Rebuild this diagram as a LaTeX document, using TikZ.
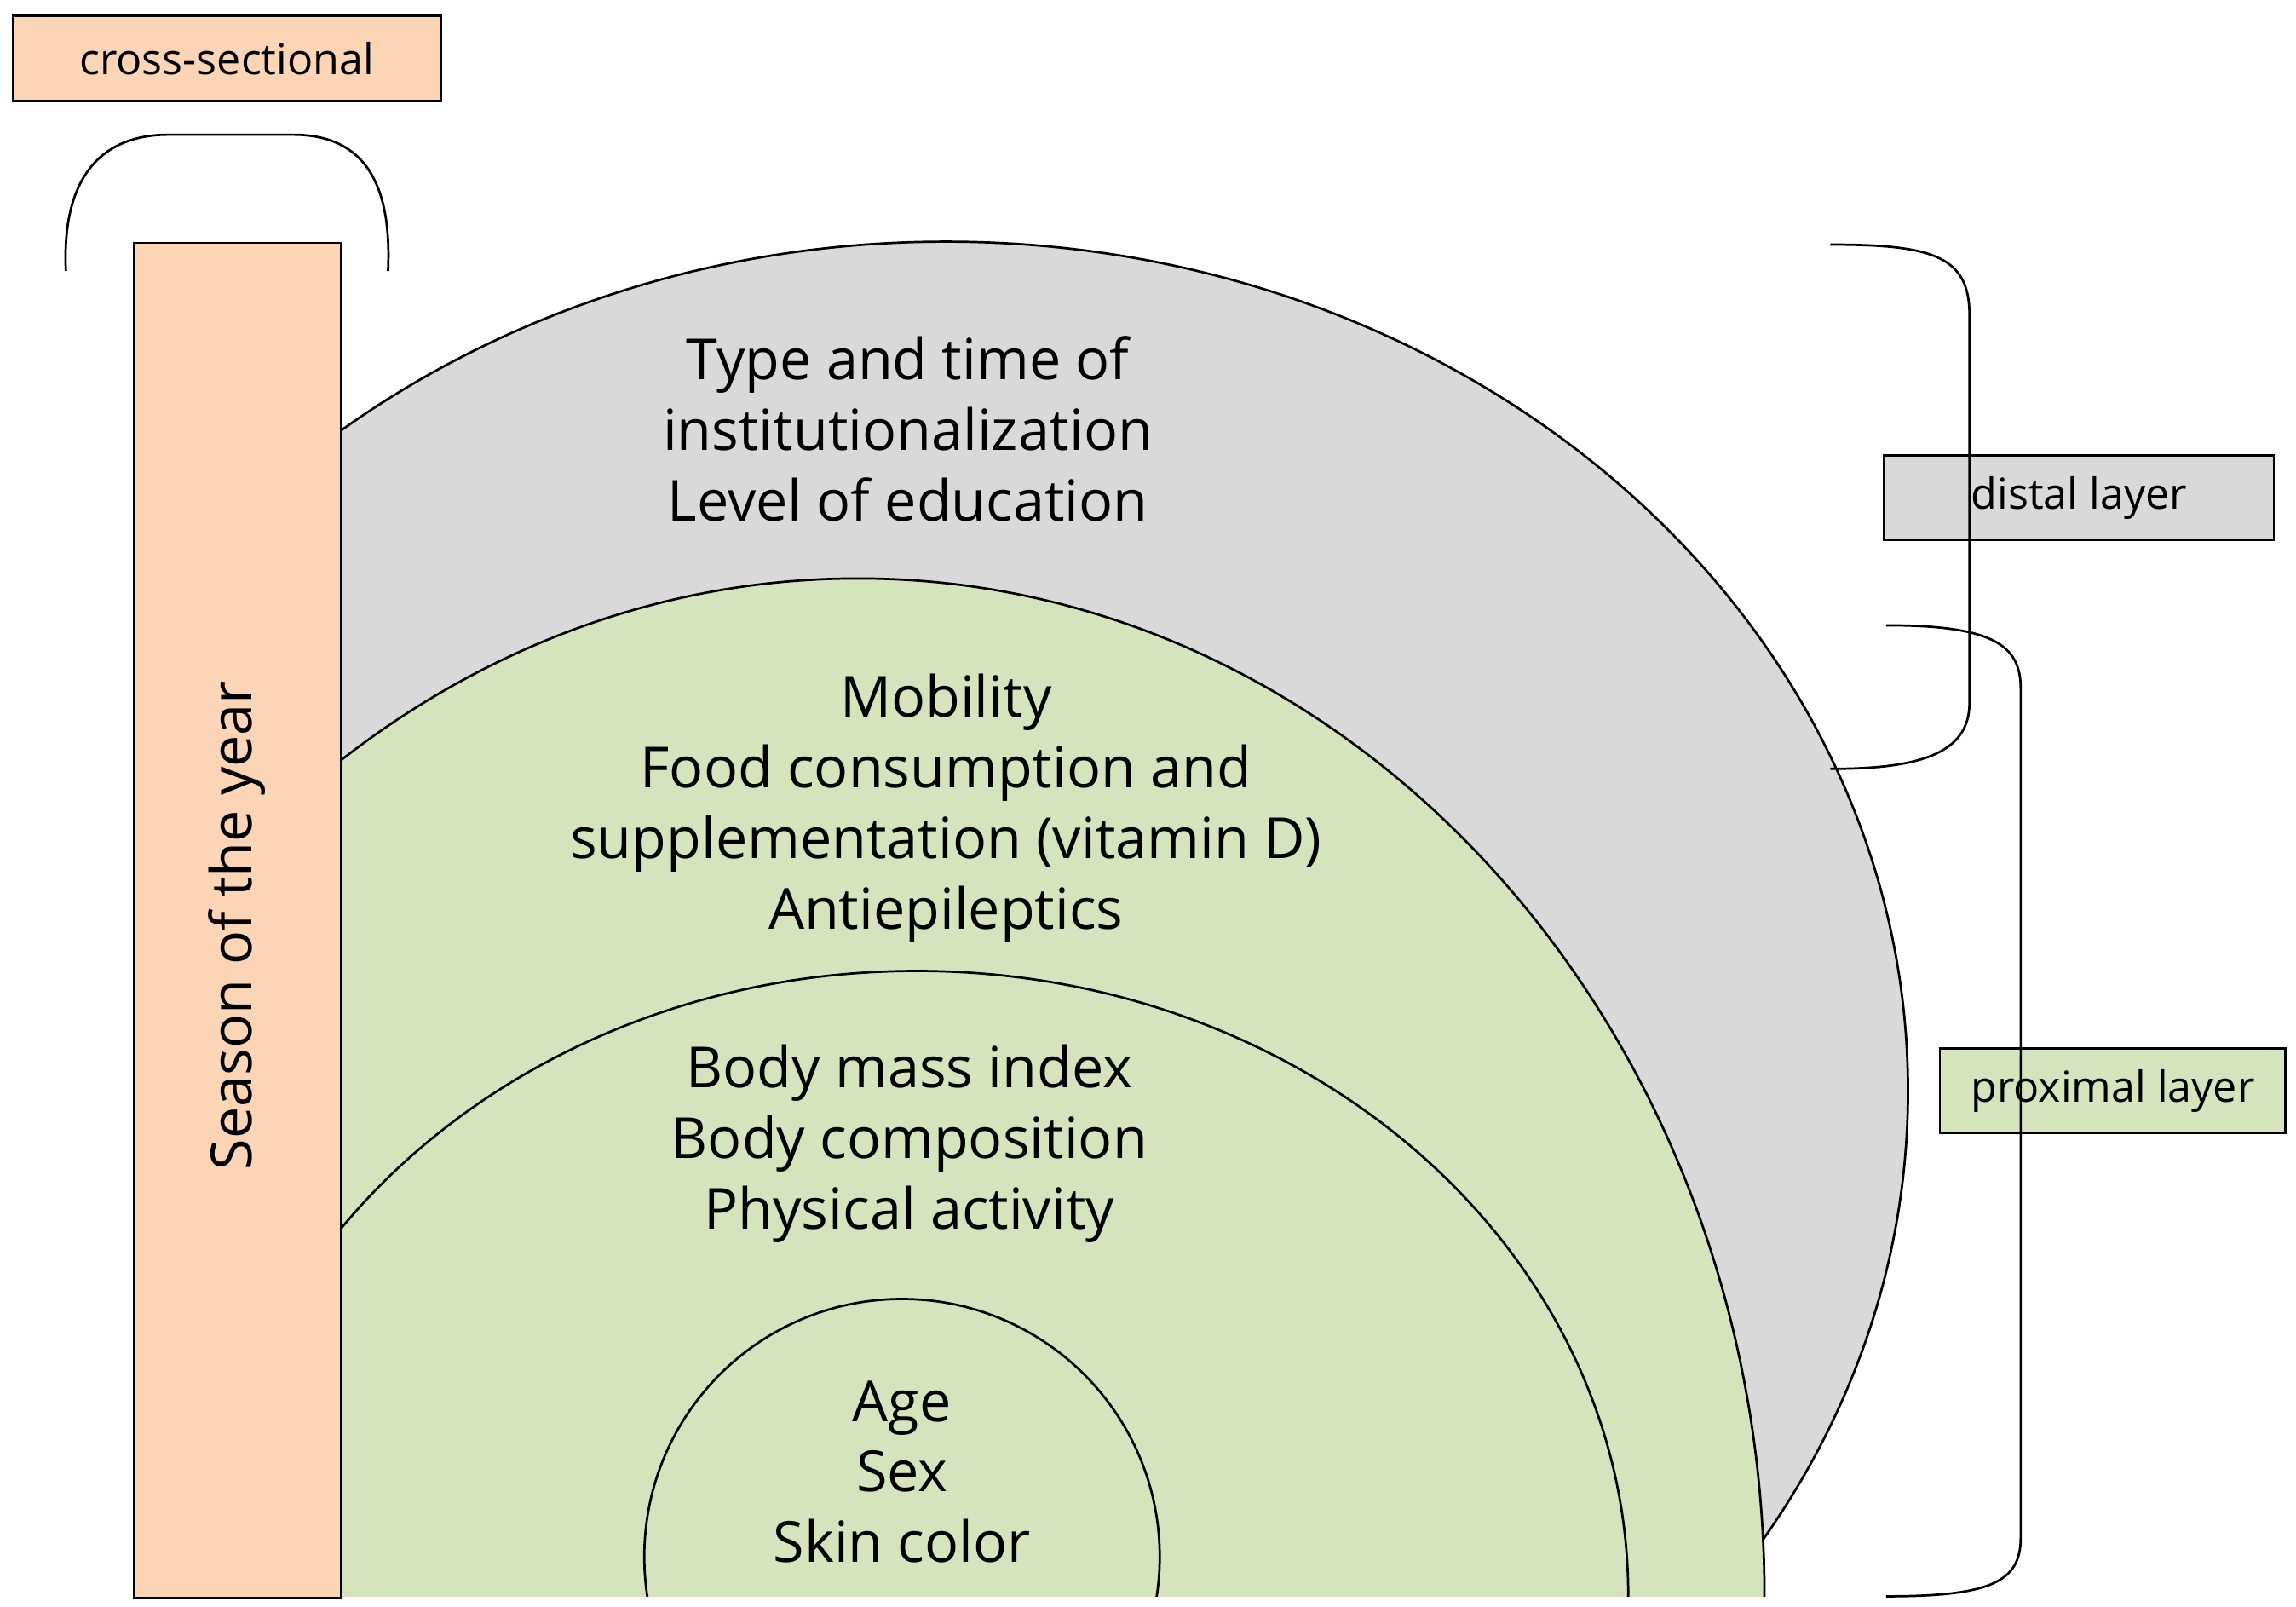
\documentclass[tikz,border=0pt]{standalone}
\usepackage{fontspec}
\setmainfont{Open Sans}
\definecolor{peach}{RGB}{251,213,181}
\definecolor{lgray}{RGB}{217,217,217}
\definecolor{lgreen}{RGB}{214,228,190}
\begin{document}
\begin{tikzpicture}[x=0.01cm,y=-0.01cm,line width=0.45pt,
  lbl/.style={draw,inner sep=0,font=\fontsize{8.3}{10}\selectfont},
  big/.style={align=center,font=\fontsize{11}{13.7}\selectfont}]
\useasboundingbox (0,0) rectangle (1568,1097);
\begin{scope}
\clip (232,0) rectangle (1568,1090);
\fill[lgray,draw=black] (646,745) ellipse [x radius=657, y radius=580];
\fill[lgreen,draw=black] (586,1090) ellipse [x radius=619, y radius=695];
\draw (626,1090) ellipse [x radius=486, y radius=427];
\draw (616,1063) circle [radius=176];
\end{scope}
\node[draw,fill=peach,minimum width=1.41cm,minimum height=9.25cm,anchor=north west,inner sep=0] (bar) at (91,165) {};
\node[rotate=90,font=\fontsize{11}{14}\selectfont] (season) at (162,632) {Season of the year};
\node[lbl,fill=peach,minimum width=2.92cm,minimum height=0.58cm,anchor=north west] (cs) at (8,10) {cross-sectional};
\node[lbl,fill=lgray,minimum width=2.66cm,minimum height=0.58cm,anchor=north west] (dl) at (1286,310) {distal layer};
\node[lbl,fill=lgreen,minimum width=2.36cm,minimum height=0.58cm,anchor=north west] (pl) at (1324,715) {proximal layer};
\node[big] (t1) at (620,293) {Type and time of\\institutionalization\\Level of education};
\node[big] (t2) at (646,552) {Mobility\\Food consumption and\\supplementation (vitamin D)\\Antiepileptics};
\node[big] (t3) at (621,781) {Body mass index\\Body composition\\Physical activity};
\node[big] (t4) at (616,1005) {Age\\Sex\\Skin color};
\coordinate (c1) at (45,185); \coordinate (c2) at (265,185);
\draw (c1) .. controls (42,120) and (70,92) .. (115,92) -- (200,92) .. controls (245,92) and (268,120) .. (c2);
\coordinate (d1) at (1250,167); \coordinate (d2) at (1250,525);
\draw (d1) .. controls (1320,167) and (1345,175) .. (1345,215) -- (1345,480) .. controls (1345,515) and (1310,525) .. (d2);
\coordinate (p1) at (1288,427); \coordinate (p2) at (1288,1090);
\draw (p1) .. controls (1360,427) and (1380,440) .. (1380,470) -- (1380,1050) .. controls (1380,1080) and (1360,1090) .. (p2);
\end{tikzpicture}
\end{document}
